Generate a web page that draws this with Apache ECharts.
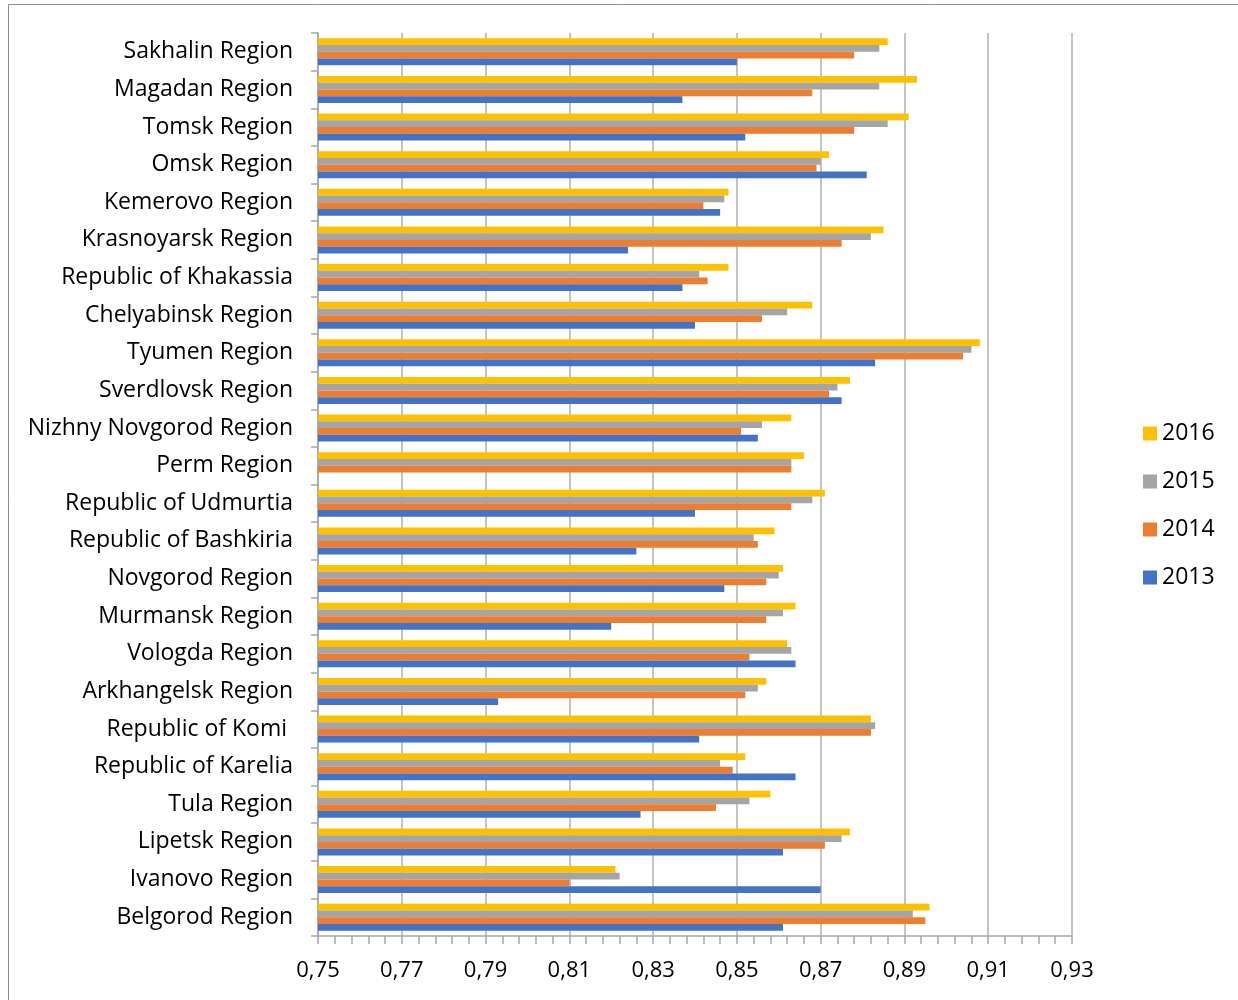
<!DOCTYPE html>
<html>
<head>
<meta charset="utf-8">
<script src="https://cdn.jsdelivr.net/npm/echarts@6/dist/echarts.min.js"></script>
<style>
  html, body { margin: 0; padding: 0; background: #fff; }
  #chart { width: 1238px; height: 1000px; }
</style>
</head>
<body>
<div id="chart"></div>
<script>
// Regions, listed bottom-to-top along the category axis
const regions = [
  'Belgorod Region', 'Ivanovo Region', 'Lipetsk Region', 'Tula Region',
  'Republic of Karelia', 'Republic of Komi ', 'Arkhangelsk Region', 'Vologda Region',
  'Murmansk Region', 'Novgorod Region', 'Republic of Bashkiria', 'Republic of Udmurtia',
  'Perm Region', 'Nizhny Novgorod Region', 'Sverdlovsk Region', 'Tyumen Region',
  'Chelyabinsk Region', 'Republic of Khakassia', 'Krasnoyarsk Region', 'Kemerovo Region',
  'Omsk Region', 'Tomsk Region', 'Magadan Region', 'Sakhalin Region'
];

// Index values by year, same order as regions
const v2013 = [0.861, 0.870, 0.861, 0.827, 0.864, 0.841, 0.793, 0.864, 0.820, 0.847, 0.826, 0.840,
               null, 0.855, 0.875, 0.883, 0.840, 0.837, 0.824, 0.846, 0.881, 0.852, 0.837, 0.850];
const v2014 = [0.895, 0.810, 0.871, 0.845, 0.849, 0.882, 0.852, 0.853, 0.857, 0.857, 0.855, 0.863,
               0.863, 0.851, 0.872, 0.904, 0.856, 0.843, 0.875, 0.842, 0.869, 0.878, 0.868, 0.878];
const v2015 = [0.892, 0.822, 0.875, 0.853, 0.846, 0.883, 0.855, 0.863, 0.861, 0.860, 0.854, 0.868,
               0.863, 0.856, 0.874, 0.906, 0.862, 0.841, 0.882, 0.847, 0.870, 0.886, 0.884, 0.884];
const v2016 = [0.896, 0.821, 0.877, 0.858, 0.852, 0.882, 0.857, 0.862, 0.864, 0.861, 0.859, 0.871,
               0.866, 0.863, 0.877, 0.908, 0.868, 0.848, 0.885, 0.848, 0.872, 0.891, 0.893, 0.886];

// Series drawn top-to-bottom inside each category band
const years = ['2016', '2015', '2014', '2013'];
const colors = ['#FFC000', '#A5A5A5', '#ED7D31', '#4472C4'];
const seriesValues = [v2016, v2015, v2014, v2013];

// Value axis ticks
const xMin = 0.75, xMax = 0.93, xStep = 0.02;

const FONT = '"Open Sans", sans-serif';
const chart = echarts.init(document.getElementById('chart'), null, { renderer: 'canvas' });

chart.setOption({
  animation: false,
  backgroundColor: '#ffffff',
  graphic: [{
    type: 'rect',
    shape: { x: 8.5, y: 4.5, width: 1240, height: 1010 },
    style: { fill: 'none', stroke: '#8c8c8c', lineWidth: 1 },
    silent: true
  }],
  grid: { left: 318, right: 166, top: 33, bottom: 64, containLabel: false },
  legend: {
    orient: 'vertical',
    left: 1138,
    top: 417,
    data: years,
    icon: 'rect',
    itemWidth: 14,
    itemHeight: 14,
    itemGap: 25,
    textStyle: { fontFamily: FONT, fontSize: 23, color: '#000', lineHeight: 22 }
  },
  xAxis: {
    type: 'value',
    min: xMin,
    max: xMax,
    interval: xStep,
    axisLine: { show: true, lineStyle: { color: '#a6a6a6', width: 1.5 } },
    axisTick: { show: true, length: 8, lineStyle: { color: '#a6a6a6', width: 1.5 } },
    minorTick: { show: true, splitNumber: 5, length: 8, lineStyle: { color: '#a6a6a6', width: 1.5 } },
    splitLine: { show: true, lineStyle: { color: '#b0b0b0', width: 1.5 } },
    axisLabel: {
      margin: 24,
      fontFamily: FONT,
      fontSize: 22,
      color: '#000',
      formatter: v => v.toFixed(2).replace('.', ',')
    }
  },
  yAxis: {
    type: 'category',
    data: regions,
    axisLine: { show: true, lineStyle: { color: '#a6a6a6', width: 1.5 } },
    axisTick: { show: true, length: 7, lineStyle: { color: '#a6a6a6', width: 1.5 } },
    axisLabel: { margin: 25, fontFamily: FONT, fontSize: 23, color: '#000', padding: [4, 0, 0, 0] }
  },
  series: years.map((y, i) => ({
    name: y,
    type: 'bar',
    data: seriesValues[i].map(v => v === null ? '-' : v),
    itemStyle: { color: colors[i] },
    barGap: '0%',
    barCategoryGap: '28%'
  }))
});
</script>
</body>
</html>
